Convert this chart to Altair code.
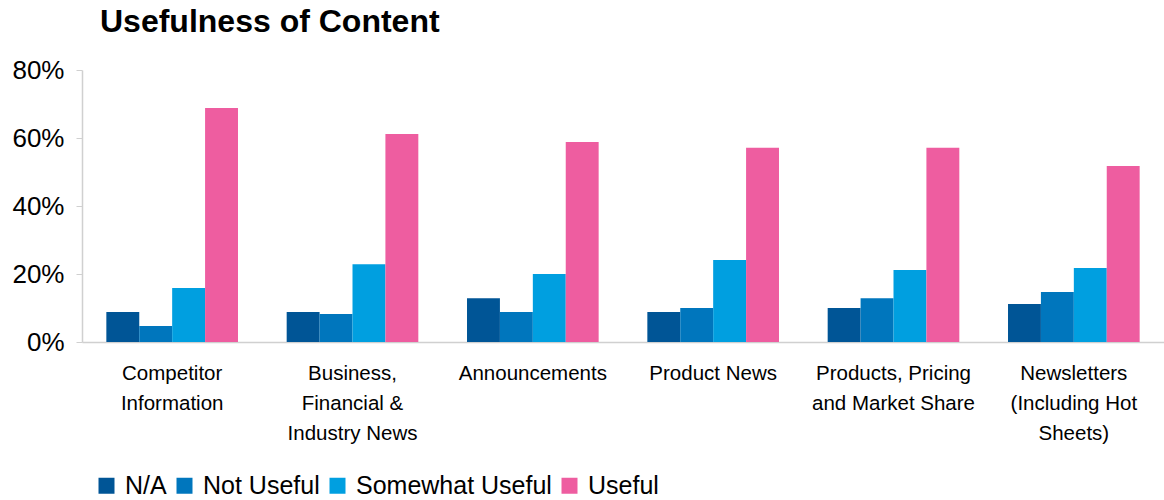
import altair as alt
import pandas as pd

categories = [
    "Competitor|Information",
    "Business,|Financial &|Industry News",
    "Announcements",
    "Product News",
    "Products, Pricing|and Market Share",
    "Newsletters|(Including Hot|Sheets)",
]
series = ["N/A", "Not Useful", "Somewhat Useful", "Useful"]
na_vals = [8.8, 8.8, 12.9, 8.8, 10.0, 11.2]
not_useful_vals = [4.7, 8.2, 8.8, 10.0, 12.9, 14.7]
somewhat_vals = [15.9, 22.9, 20.0, 24.1, 21.2, 21.8]
useful_vals = [68.8, 61.2, 58.8, 57.1, 57.1, 51.8]
colors = ["#005596", "#0076BD", "#009FE0", "#EE5DA0"]

rows = []
for s, vals in zip(series, [na_vals, not_useful_vals, somewhat_vals, useful_vals]):
    for c, v in zip(categories, vals):
        rows.append({"category": c, "series": s, "value": v / 100})
df = pd.DataFrame(rows)

FONT = "Liberation Sans"

chart = (
    alt.Chart(df)
    .mark_bar()
    .encode(
        x=alt.X(
            "category:N",
            sort=categories,
            scale=alt.Scale(paddingInner=0.27, paddingOuter=0.135),
            axis=alt.Axis(
                title=None,
                labelAngle=0,
                ticks=False,
                domainColor="#d0d0d0",
                domainWidth=1.5,
                labelFont=FONT,
                labelFontSize=20.5,
                labelColor="#000000",
                labelPadding=31,
                labelLineHeight=30,
                labelBaseline="middle",
                labelExpr="split(datum.label, '|')",
                labelLimit=300,
            ),
        ),
        xOffset=alt.XOffset("series:N", sort=series, scale=alt.Scale(paddingInner=0, paddingOuter=0)),
        y=alt.Y(
            "value:Q",
            scale=alt.Scale(domain=[0, 0.8], nice=False),
            axis=alt.Axis(
                title=None,
                values=[0, 0.2, 0.4, 0.6, 0.8],
                format=".0%",
                grid=False,
                domainColor="#d0d0d0",
                domainWidth=1.5,
                tickColor="#d0d0d0",
                tickSize=6,
                labelFont=FONT,
                labelFontSize=26,
                labelColor="#000000",
                labelPadding=12,
            ),
        ),
        color=alt.Color(
            "series:N",
            sort=series,
            scale=alt.Scale(domain=series, range=colors),
            legend=alt.Legend(
                title=None,
                orient="none",
                legendX=12,
                legendY=403,
                direction="horizontal",
                columns=4,
                symbolType="square",
                symbolSize=256,
                symbolStrokeWidth=0,
                labelFont=FONT,
                labelFontSize=25,
                labelColor="#000000",
                labelOffset=6,
                labelLimit=400,
                columnPadding=5,
            ),
        ),
    )
    .properties(
        width=1082,
        height=272,
        title=alt.TitleParams(
            "Usefulness of Content",
            anchor="start",
            frame="group",
            font=FONT,
            fontSize=32,
            fontWeight="bold",
            color="#000000",
            dx=18,
            offset=18,
        ),
        autosize=alt.AutoSizeParams(type="none"),
        padding={"left": 82, "top": 70, "right": 0, "bottom": 158},
    )
    .configure_view(stroke=None)
)

chart.save("out.html", embed_options={"renderer": "svg", "actions": False})
